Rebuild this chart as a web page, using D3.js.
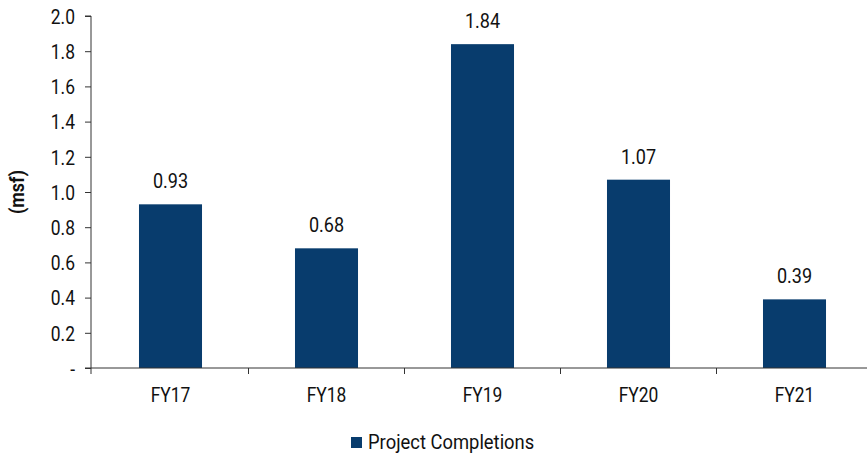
<!DOCTYPE html>
<html>
<head>
<meta charset="utf-8">
<script src="https://cdn.jsdelivr.net/npm/d3@7"></script>
<style>
  html, body { margin: 0; padding: 0; background: #fff; }
  svg text { font-family: Roboto, "Liberation Sans", sans-serif; fill: #111; }
</style>
</head>
<body>
<svg id="chart" width="867" height="459"></svg>
<script>
// Project completions by fiscal year (msf)
const categories = ["FY17", "FY18", "FY19", "FY20", "FY21"];
const completions = [0.93, 0.68, 1.84, 1.07, 0.39];
const yTicks = [0, 0.2, 0.4, 0.6, 0.8, 1.0, 1.2, 1.4, 1.6, 1.8, 2.0];
const seriesName = "Project Completions";
const axisTitle = "(msf)";

const svg = d3.select("#chart");
const W = 867, H = 459;
const axisX = 91;
const barColor = "#083c6d";
const fontSize = 21;
const narrow = 0.83;   // horizontal squeeze for a condensed look

// place a condensed text label at (px, py)
function label(g, px, py, txt, size, anchor, sx) {
  return g.append("text")
    .attr("transform", `translate(${px},${py}) scale(${sx || narrow},1)`)
    .attr("text-anchor", anchor || "middle")
    .style("font-size", size + "px")
    .text(txt);
}

const x = d3.scaleBand()
  .domain(categories)
  .range([92.5, 872.5])
  .paddingInner(0.596)
  .paddingOuter(0.298);

const y = d3.scaleLinear()
  .domain([0, 2.0])
  .range([368, 16]);

// bars
svg.append("g").selectAll("rect")
  .data(categories)
  .join("rect")
  .attr("x", d => x(d))
  .attr("width", x.bandwidth())
  .attr("y", (d, i) => y(completions[i]))
  .attr("height", (d, i) => y(0) - y(completions[i]))
  .attr("fill", barColor);

// value labels
const gv = svg.append("g");
categories.forEach((d, i) => {
  label(gv, x(d) + x.bandwidth() / 2, y(completions[i]) - 16, completions[i].toFixed(2), fontSize, "middle", 0.86);
});

// y axis
const yAxis = d3.axisLeft(y)
  .tickValues(yTicks)
  .tickSize(6)
  .tickPadding(16)
  .tickFormat(d => d === 0 ? "-" : d.toFixed(1));
const gy = svg.append("g")
  .attr("transform", `translate(${axisX},0)`)
  .call(yAxis);
gy.attr("font-family", null);
gy.select(".domain").attr("stroke", "#333").attr("d", `M-6,${y(2.0)}H0V${y(0)}`);
gy.selectAll(".tick line").attr("stroke", "#333");
gy.selectAll(".tick text")
  .style("font-size", fontSize + "px")
  .attr("fill", "#111")
  .attr("x", null)
  .attr("dy", "0.35em")
  .attr("transform", `translate(-16,0) scale(${narrow},1)`);

// x axis with category boundaries as ticks
const step = x.step();
const bounds = categories.map((d, i) => i === 0 ? axisX : 92.5 + i * step);
svg.append("line")
  .attr("x1", axisX - 6).attr("x2", W)
  .attr("y1", y(0)).attr("y2", y(0))
  .attr("stroke", "#333");
svg.append("g").selectAll("line")
  .data(bounds)
  .join("line")
  .attr("x1", d => d).attr("x2", d => d)
  .attr("y1", y(0)).attr("y2", y(0) + 6)
  .attr("stroke", "#333");
const gx = svg.append("g");
categories.forEach(d => label(gx, x(d) + x.bandwidth() / 2, y(0) + 34, d, fontSize));

// y axis title
svg.append("text")
  .attr("transform", `translate(24,${(y(0) + y(2.0)) / 2}) rotate(-90) scale(0.9,1)`)
  .attr("text-anchor", "middle")
  .style("font-size", "20px")
  .style("font-weight", "bold")
  .text(axisTitle);

// legend
const lg = svg.append("g").attr("transform", "translate(351,437)");
lg.append("rect").attr("width", 11).attr("height", 11).attr("fill", barColor);
label(lg, 17, 12, seriesName, 20, "start", 0.92);
</script>
</body>
</html>
